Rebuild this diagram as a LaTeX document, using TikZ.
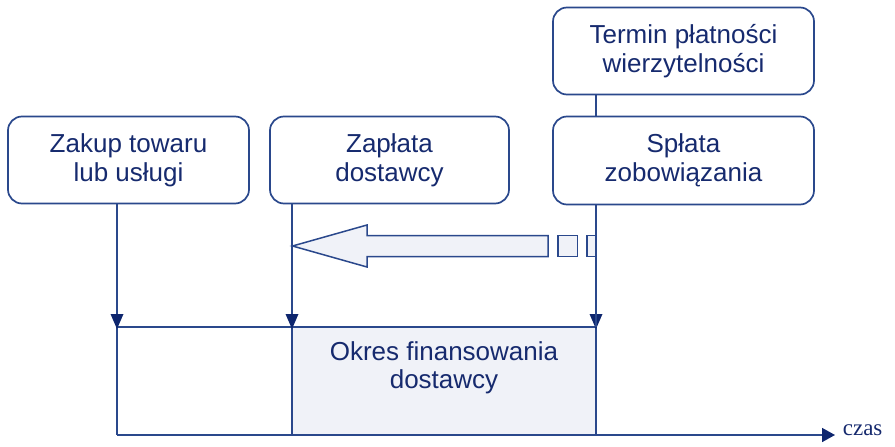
\documentclass[tikz,border=0pt]{standalone}
\usepackage{fontspec}
\setmainfont{Liberation Sans}
\newfontfamily\axisfont{Liberation Serif}
\usetikzlibrary{arrows.meta,calc}
\definecolor{linec}{RGB}{42,72,140}
\definecolor{textc}{RGB}{22,42,110}
\definecolor{tipc}{RGB}{14,38,110}
\definecolor{periodfill}{RGB}{240,242,248}
\begin{document}
\begin{tikzpicture}[x=1pt,y=-1pt,
  line width=1.7pt,
  box/.style={draw=linec, rounded corners=14pt, inner sep=0pt, align=center,
    text=textc, font=\fontsize{26}{29}\selectfont},
  label/.style={inner sep=0pt, align=center, text=textc, font=\fontsize{26}{28}\selectfont},
]
\useasboundingbox (0,0) rectangle (895,447);

% time markers on the axis
\coordinate (m1) at (117,327);
\coordinate (m2) at (292,327);
\coordinate (m3) at (596,327);
\coordinate (a1) at (117,435);
\coordinate (a2) at (292,435);
\coordinate (a3) at (596,435);
\coordinate (aend) at (835,435);

% financing period
\fill[periodfill] (m2) rectangle (a3);
\node[label] (okres) at (444,368) {Okres finansowania\\dostawcy};

% event boxes
\node[box, minimum width=241pt, minimum height=87pt] (b1) at (128.5,160) {Zakup towaru\\lub usługi};
\node[box, minimum width=239pt, minimum height=87pt] (b2) at (389.5,160) {Zapłata\\dostawcy};
\node[box, minimum width=261pt, minimum height=88pt] (b3) at (683.5,160.5) {Spłata\\zobowiązania};
\node[box, minimum width=261pt, minimum height=87pt] (b4) at (683.5,51) {Termin płatności\\wierzytelności};

% connectors
\draw[linec] (b4.south -| m3) -- (b3.north -| m3);
\draw[linec] (b1.south -| m1) -- (a1);
\draw[linec] (b2.south -| m2) -- (a2);
\draw[linec] (b3.south -| m3) -- (a3);
\draw[linec] (m1) -- (m3);
\draw[linec, -{Triangle[width=14pt,length=13pt,color=tipc]}] (a1) -- (aend);
\foreach \m in {m1,m2,m3}
  \fill[tipc] ($(\m)+(0,2)$) -- ++(-6.5,-15) -- ++(13,0) -- cycle;

\node[anchor=base west, inner sep=0pt, text=textc, font=\axisfont\fontsize{23}{25}\selectfont] (czas) at (842,435) {czas};

% hollow arrow pointing back to the supplier payment
\draw[linec, fill=periodfill, line width=1.5pt, line join=miter]
  (292.5,246) -- (367,225) -- (367,235.5) -- (548,235.5) -- (548,256.5)
  -- (367,256.5) -- (367,267) -- cycle;
\draw[linec, fill=periodfill, line width=1.5pt] (558,235.5) rectangle (577.5,256.5);
\draw[linec, fill=periodfill, line width=1.5pt] (596,235.5) -- (587,235.5) -- (587,256.5) -- (596,256.5);
\draw[linec] (b3.south -| m3) -- (m3);
\end{tikzpicture}
\end{document}
